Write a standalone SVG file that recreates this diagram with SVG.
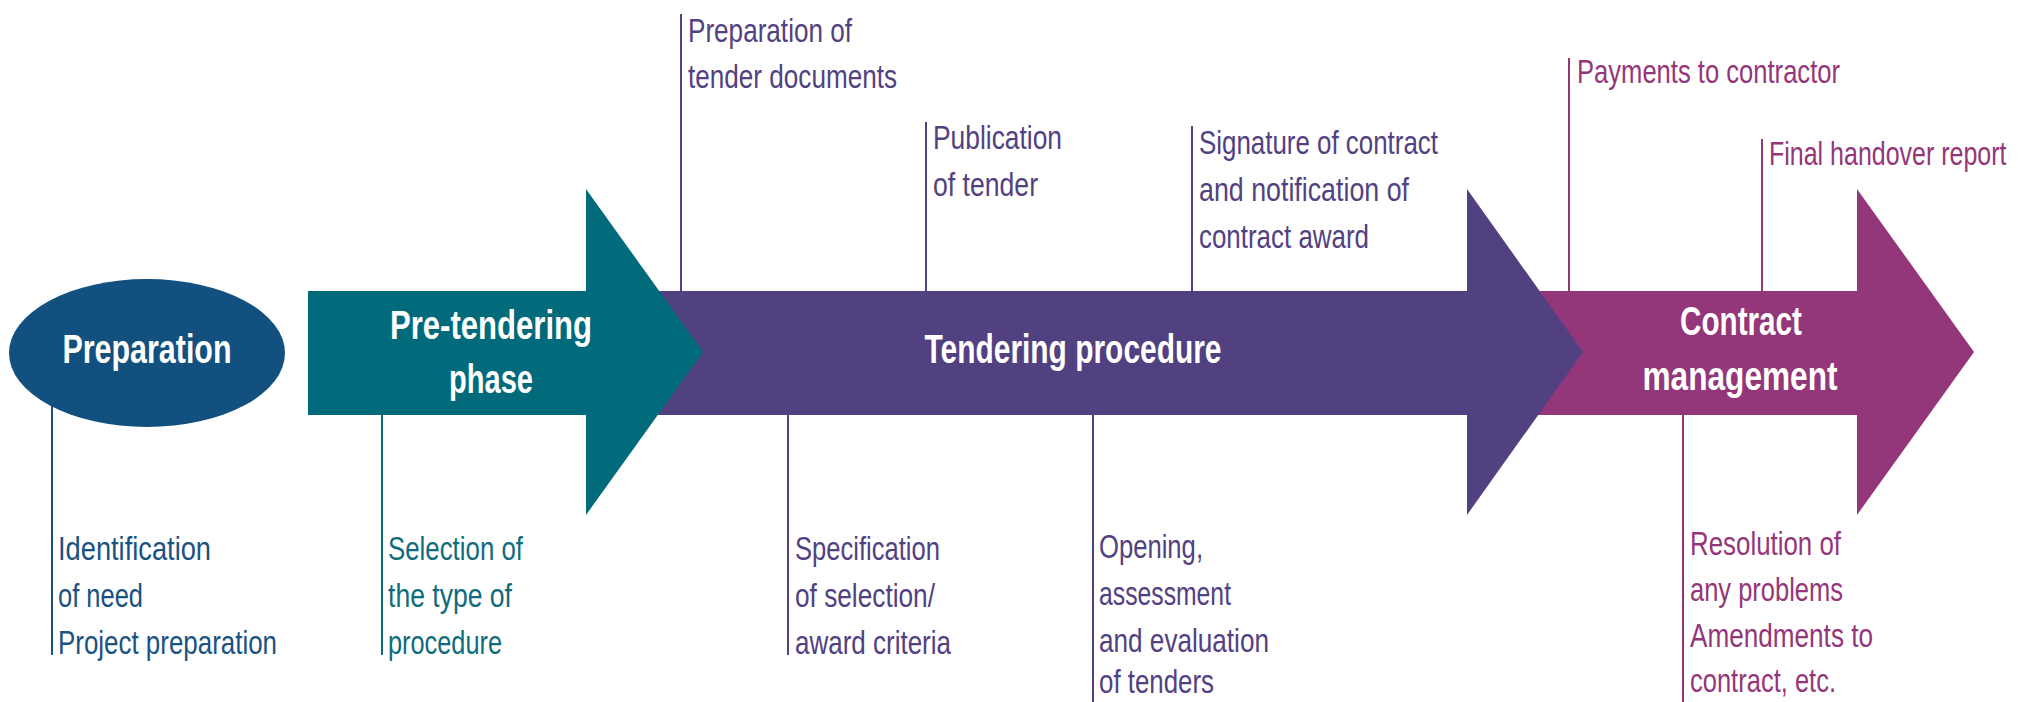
<svg xmlns="http://www.w3.org/2000/svg" width="2022" height="702" viewBox="0 0 2022 702">
<style>
.lbl{font-family:"Liberation Sans",Arial,sans-serif;font-size:34px;}
.ttl{font-family:"Liberation Sans",Arial,sans-serif;font-size:41px;font-weight:bold;fill:#ffffff;text-anchor:middle;}
.blue{fill:#1A5282;}
.teal{fill:#0E6C7C;}
.purp{fill:#524181;}
.mag{fill:#94367A;}
.ln{stroke-width:2;fill:none;}
</style>
<rect width="2022" height="702" fill="#ffffff"/>
<g id="contract-management">
<polygon points="1450,291 1857,291 1857,189 1974,352 1857,515 1857,415 1450,415" fill="#94367A"/>
<text class="ttl" x="1741" y="335" textLength="122" lengthAdjust="spacingAndGlyphs">Contract</text>
<text class="ttl" x="1740" y="390" textLength="195" lengthAdjust="spacingAndGlyphs">management</text>
</g>
<g id="tendering-procedure">
<polygon points="600,291 1467,291 1467,189 1583,352 1467,515 1467,415 600,415" fill="#524181"/>
<text class="ttl" x="1073" y="363" textLength="297" lengthAdjust="spacingAndGlyphs">Tendering procedure</text>
</g>
<g id="pre-tendering">
<polygon points="308,291 586,291 586,189 703,352 586,515 586,415 308,415" fill="#016A7B"/>
<text class="ttl" x="491" y="339" textLength="202" lengthAdjust="spacingAndGlyphs">Pre-tendering</text>
<text class="ttl" x="491" y="393" textLength="84" lengthAdjust="spacingAndGlyphs">phase</text>
</g>
<g id="preparation">
<ellipse cx="147" cy="353" rx="138" ry="74" fill="#12517F"/>
<text class="ttl" x="147" y="363" textLength="169" lengthAdjust="spacingAndGlyphs">Preparation</text>
</g>
<g id="connectors">
<line class="ln" x1="52" y1="406" x2="52" y2="655" stroke="#1A5282"/>
<line class="ln" x1="382" y1="415" x2="382" y2="655" stroke="#0E6C7C"/>
<line class="ln" x1="681" y1="14" x2="681" y2="291" stroke="#524181"/>
<line class="ln" x1="926" y1="122" x2="926" y2="291" stroke="#524181"/>
<line class="ln" x1="1192" y1="126" x2="1192" y2="291" stroke="#524181"/>
<line class="ln" x1="788" y1="415" x2="788" y2="655" stroke="#524181"/>
<line class="ln" x1="1093" y1="415" x2="1093" y2="702" stroke="#524181"/>
<line class="ln" x1="1569" y1="58" x2="1569" y2="291" stroke="#94367A"/>
<line class="ln" x1="1762" y1="139" x2="1762" y2="291" stroke="#94367A"/>
<line class="ln" x1="1683" y1="415" x2="1683" y2="702" stroke="#94367A"/>
</g>
<g id="label-identification" class="lbl blue">
<text x="58" y="560" textLength="153" lengthAdjust="spacingAndGlyphs">Identification</text>
<text x="58" y="607" textLength="85" lengthAdjust="spacingAndGlyphs">of need</text>
<text x="58" y="654" textLength="219" lengthAdjust="spacingAndGlyphs">Project preparation</text>
</g>
<g id="label-selection" class="lbl teal">
<text x="388" y="560" textLength="135" lengthAdjust="spacingAndGlyphs">Selection of</text>
<text x="388" y="607" textLength="124" lengthAdjust="spacingAndGlyphs">the type of</text>
<text x="388" y="654" textLength="114" lengthAdjust="spacingAndGlyphs">procedure</text>
</g>
<g id="label-specification" class="lbl purp">
<text x="795" y="560" textLength="145" lengthAdjust="spacingAndGlyphs">Specification</text>
<text x="795" y="607" textLength="140" lengthAdjust="spacingAndGlyphs">of selection/</text>
<text x="795" y="654" textLength="156" lengthAdjust="spacingAndGlyphs">award criteria</text>
</g>
<g id="label-opening" class="lbl purp">
<text x="1099" y="558" textLength="104" lengthAdjust="spacingAndGlyphs">Opening,</text>
<text x="1099" y="605" textLength="132" lengthAdjust="spacingAndGlyphs">assessment</text>
<text x="1099" y="652" textLength="170" lengthAdjust="spacingAndGlyphs">and evaluation</text>
<text x="1099" y="693" textLength="115" lengthAdjust="spacingAndGlyphs">of tenders</text>
</g>
<g id="label-resolution" class="lbl mag">
<text x="1690" y="555" textLength="151" lengthAdjust="spacingAndGlyphs">Resolution of</text>
<text x="1690" y="601" textLength="153" lengthAdjust="spacingAndGlyphs">any problems</text>
<text x="1690" y="647" textLength="183" lengthAdjust="spacingAndGlyphs">Amendments to</text>
<text x="1690" y="692" textLength="146" lengthAdjust="spacingAndGlyphs">contract, etc.</text>
</g>
<g id="label-tender-documents" class="lbl purp">
<text x="688" y="42" textLength="164" lengthAdjust="spacingAndGlyphs">Preparation of</text>
<text x="688" y="88" textLength="209" lengthAdjust="spacingAndGlyphs">tender documents</text>
</g>
<g id="label-publication" class="lbl purp">
<text x="933" y="149" textLength="129" lengthAdjust="spacingAndGlyphs">Publication</text>
<text x="933" y="196" textLength="105" lengthAdjust="spacingAndGlyphs">of tender</text>
</g>
<g id="label-signature" class="lbl purp">
<text x="1199" y="154" textLength="239" lengthAdjust="spacingAndGlyphs">Signature of contract</text>
<text x="1199" y="201" textLength="210" lengthAdjust="spacingAndGlyphs">and notification of</text>
<text x="1199" y="248" textLength="170" lengthAdjust="spacingAndGlyphs">contract award</text>
</g>
<g id="label-payments" class="lbl mag">
<text x="1577" y="83" textLength="263" lengthAdjust="spacingAndGlyphs">Payments to contractor</text>
</g>
<g id="label-handover" class="lbl mag">
<text transform="translate(1769,165) scale(0.735,1)" x="0" y="0">Final handover report</text>
</g>
</svg>
